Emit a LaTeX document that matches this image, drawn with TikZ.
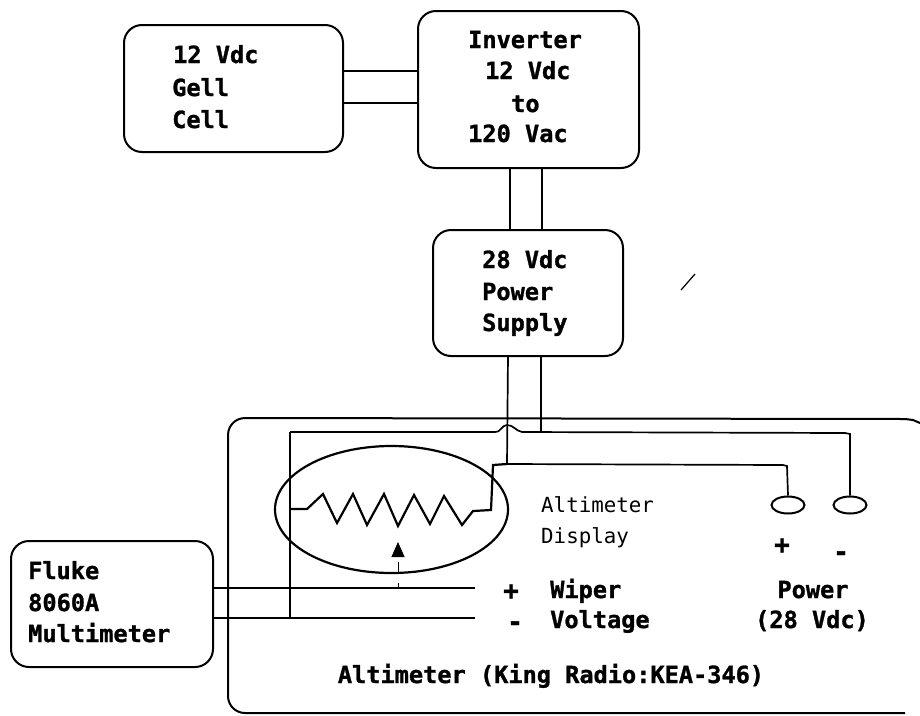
\documentclass[tikz,border=0pt]{standalone}
\usepackage{fontspec}
\setmainfont[BoldFeatures={FakeBold=1.2}]{DejaVu Sans Mono}
\usetikzlibrary{arrows.meta,shapes.geometric}
\tikzset{
  wire/.style={line width=1.7pt, black},
  coil/.style={line width=2.2pt, black, line join=miter},
  thick line/.style={line width=2pt, black},
  blockbox/.style={draw=black, line width=2pt, rounded corners=18pt, fill=none, inner sep=0pt, anchor=north west},
  boldlabel/.style={font=\fontsize{23.6}{30}\selectfont\bfseries, inner sep=0pt, anchor=base west},
  centerlabel/.style={font=\fontsize{23.6}{30}\selectfont\bfseries, inner sep=0pt, anchor=base},
  signlabel/.style={font=\fontsize{26}{30}\selectfont\bfseries, inner sep=0pt, anchor=center},
  thinlabel/.style={font=\fontsize{20.8}{30}\selectfont, inner sep=0pt, anchor=base west},
  term/.style={draw=black, line width=2pt, ellipse, minimum width=33pt, minimum height=17pt, inner sep=0pt},
}
\begin{document}
\begin{tikzpicture}[x=1pt,y=-1pt]
\useasboundingbox (0,0) rectangle (920,715);
% blocks
\node[blockbox, minimum width=219pt, minimum height=127pt] (gell) at (123,24) {};
\node[blockbox, minimum width=221pt, minimum height=157pt] (inv) at (417,10) {};
\node[blockbox, minimum width=190pt, minimum height=126pt] (psu) at (432,229) {};
\node[blockbox, minimum width=202pt, minimum height=126pt] (fluke) at (10,540) {};
\node[ellipse, draw=black, line width=2.2pt, minimum width=233pt, minimum height=127pt, inner sep=0pt] (disp) at (391.5,509.5) {};
% altimeter enclosure, open-ended on the right
\coordinate (encTR) at (920,423);
\coordinate (encBR) at (905,713);
\draw[thick line, rounded corners=17pt] (encBR) -- (228,713) -- (228,418) -- (905,419);
\draw[thick line] (905,419) -- (913,420) -- (encTR);
% labels
\node[boldlabel] (t1) at (173,63) {12 Vdc};
\node[boldlabel] (t1b) at (172,96) {Gell};
\node[boldlabel] (t1c) at (172,128) {Cell};
\node[boldlabel] (t2a) at (468,48) {Inverter};
\node[boldlabel] (t2b) at (485,79) {12 Vdc};
\node[boldlabel] (t2c) at (511,112) {to};
\node[boldlabel] (t2d) at (468,142) {120 Vac};
\node[boldlabel] (t3a) at (482,268) {28 Vdc};
\node[boldlabel] (t3b) at (482,300) {Power};
\node[boldlabel] (t3c) at (482,331) {Supply};
\node[boldlabel] (t4a) at (28,579) {Fluke};
\node[boldlabel] (t4b) at (28,611) {8060A};
\node[boldlabel] (t4c) at (28,642) {Multimeter};
\node[thinlabel] (t5a) at (541,512) {Altimeter};
\node[thinlabel] (t5b) at (541,543) {Display};
\node[signlabel] (plus1) at (511,592) {+};
\node[signlabel] (minus1) at (515,626) {-};
\node[boldlabel] (t6a) at (550,598) {Wiper};
\node[boldlabel] (t6b) at (550,628) {Voltage};
\node[signlabel] (plus2) at (782,546) {+};
\node[signlabel] (minus2) at (841,556) {-};
\node[centerlabel] (t7a) at (813,598) {Power};
\node[centerlabel] (t7b) at (812,628) {(28 Vdc)};
\node[centerlabel] (t8) at (551,683) {Altimeter (King Radio:KEA-346)};
% terminals
\node[term] (tp) at (788,505) {};
\node[term] (tm) at (850,505) {};
% wires
\draw[wire] (gell.east |- 0,71) -- (inv.west |- 0,71);
\draw[wire] (gell.east |- 0,103) -- (inv.west |- 0,103);
\draw[wire] (510,167) -- (510,229);
\draw[wire] (542,167) -- (542,229);
\draw[wire] (508,355) -- (507,464);
\draw[coil] (507,464) -- (493,465) -- (491,510) -- (473,511) -- (462,525) -- (444,496) -- (430,524) -- (414,495) -- (398,526) -- (384,494) -- (367,525) -- (353,494) -- (337,523) -- (323,494) -- (307,509) -- (290,509);
\draw[wire] (541,355) -- (541,432);
\draw[wire] (fluke.east |- 0,588) -- (475,588);
\draw[wire] (fluke.east |- 0,618) -- (475,618);
\draw[wire] (290,432) -- (290,618);
\draw[wire] (290,432) -- (495,432) to[out=-10,in=180] (507,425) to[out=0,in=170] (522,432) -- (845,433) -- (850,434) -- (tm.north);
\draw[wire] (507,464) -- (783,465) -- (787,466) -- (tp.north);
% wiper
\draw[-{Triangle[length=15pt,width=13pt]}, line width=1pt, black, dash pattern=on 5pt off 11pt on 10pt off 8pt] (398,588) -- (398,542);
% stray mark
\draw[line width=1.2pt] (681,290) -- (695,274);
\end{tikzpicture}
\end{document}
